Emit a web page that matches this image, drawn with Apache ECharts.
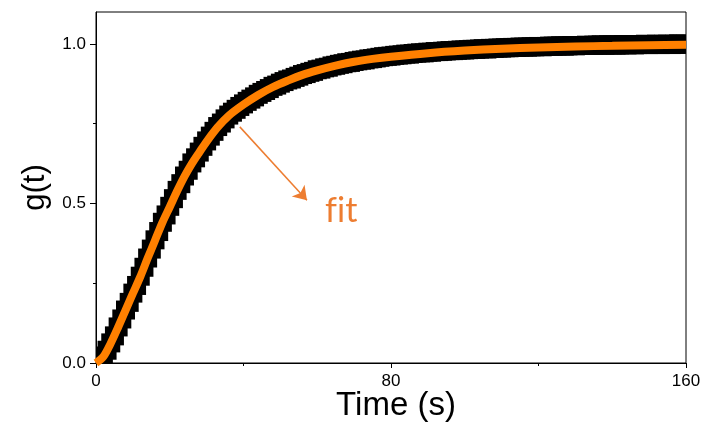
<!DOCTYPE html>
<html>
<head>
    <meta charset="utf-8">
    <title>g(t)</title>
    <script src="https://cdn.jsdelivr.net/npm/echarts@6/dist/echarts.min.js"></script>
    <style>
        html, body { margin: 0; padding: 0; background: #fff; }
        #chart { width: 705px; height: 422px; }
    </style>
</head>
<body>
<div id="chart"></div>
<script type="text/javascript">
    // measured g(t), one sample per second from t = 0
    var sampleStep = 1;
    var gData = [
        0.003, 0.010, 0.022, 0.040, 0.063, 0.085, 0.113, 0.138, 0.166, 0.190,
        0.219, 0.243, 0.272, 0.300, 0.329, 0.357, 0.386, 0.412, 0.441, 0.464,
        0.491, 0.515, 0.541, 0.562, 0.586, 0.604, 0.627, 0.643, 0.661, 0.679,
        0.696, 0.711, 0.726, 0.741, 0.752, 0.765, 0.777, 0.786, 0.795, 0.804,
        0.812, 0.820, 0.827, 0.834, 0.842, 0.848, 0.854, 0.860, 0.867, 0.871,
        0.877, 0.882, 0.887, 0.890, 0.895, 0.899, 0.904, 0.907, 0.911, 0.914,
        0.919, 0.921, 0.925, 0.927, 0.931, 0.933, 0.936, 0.938, 0.941, 0.942,
        0.945, 0.947, 0.949, 0.950, 0.953, 0.954, 0.956, 0.958, 0.960, 0.961,
        0.962, 0.964, 0.965, 0.966, 0.968, 0.968, 0.970, 0.971, 0.972, 0.972,
        0.974, 0.974, 0.976, 0.976, 0.977, 0.978, 0.979, 0.979, 0.980, 0.981,
        0.981, 0.982, 0.983, 0.983, 0.984, 0.985, 0.984, 0.986, 0.986, 0.987,
        0.987, 0.988, 0.988, 0.989, 0.989, 0.990, 0.990, 0.990, 0.991, 0.991,
        0.992, 0.991, 0.992, 0.993, 0.993, 0.993, 0.994, 0.993, 0.994, 0.995,
        0.994, 0.995, 0.995, 0.996, 0.995, 0.996, 0.996, 0.997, 0.996, 0.997,
        0.997, 0.996, 0.997, 0.998, 0.997, 0.998, 0.997, 0.998, 0.998, 0.999,
        0.998, 0.998, 0.999, 0.998, 0.999, 0.999, 0.998, 0.999, 1.000, 0.999,
        0.999
    ];

    // fitted curve
    var fitT = [0, 2, 4, 6, 8, 10, 12, 14, 16, 18, 20, 22, 24, 26, 28, 30, 33, 36, 40, 44,
                48, 52, 56, 60, 65, 70, 75, 80, 90, 100, 110, 120, 130, 140, 150, 160];
    var fitG = [0.000, 0.020, 0.062, 0.112, 0.165, 0.218, 0.270, 0.328, 0.384, 0.440,
                0.489, 0.539, 0.585, 0.625, 0.660, 0.694, 0.739, 0.775, 0.810, 0.840,
                0.865, 0.885, 0.903, 0.917, 0.932, 0.944, 0.953, 0.960, 0.971, 0.979,
                0.985, 0.989, 0.992, 0.994, 0.996, 0.997];

    // annotation arrow (data coords) and label
    var arrowFrom = [39, 0.74];
    var arrowTo = [57.2, 0.51];
    var fitLabelAt = [66.5, 0.475];

    var xTicks = [0, 80, 160];
    var yTicks = [0, 0.5, 1.0];
    var yMinorTicks = [0.25, 0.75];

    var points = [];
    for (var i = 0; i < gData.length; i++) {
        points.push([i * sampleStep, gData[i]]);
    }
    var fitLine = [];
    for (var j = 0; j < fitT.length; j++) {
        fitLine.push([fitT[j], fitG[j]]);
    }

    var tickFont = {
        color: '#000',
        fontFamily: 'Liberation Sans, Arial, sans-serif',
        fontSize: 17
    };

    var myChart = echarts.init(document.getElementById('chart'), null, {renderer: 'canvas'});
    var option = {
        animation: false,
        backgroundColor: '#fff',
        grid: {
            left: 96,
            right: 19,
            top: 12,
            bottom: 59,
            show: true,
            borderColor: '#000',
            borderWidth: 1,
            containLabel: false,
            outerBoundsMode: 'none'
        },
        xAxis: [{
            type: 'value',
            min: xTicks[0],
            max: xTicks[xTicks.length - 1],
            interval: 80,
            name: 'Time (s)',
            nameLocation: 'middle',
            nameGap: 26,
            nameMoveOverlap: false,
            nameTextStyle: {
                color: '#000',
                fontFamily: 'Liberation Sans, Arial, sans-serif',
                fontSize: 33,
                padding: [0, 0, 0, 10]
            },
            axisLine: { lineStyle: { color: '#000', width: 1 } },
            axisTick: { show: true, length: 5, lineStyle: { color: '#000' } },
            minorTick: { show: true, splitNumber: 2, length: 3, lineStyle: { color: '#000' } },
            axisLabel: Object.assign({ margin: 10 }, tickFont),
            splitLine: { show: false }
        }],
        yAxis: [{
            type: 'value',
            min: 0,
            max: 1.1,
            name: 'g(t)',
            nameLocation: 'middle',
            nameGap: 45,
            nameMoveOverlap: false,
            nameTextStyle: {
                color: '#000',
                fontFamily: 'Liberation Sans, Arial, sans-serif',
                fontSize: 31
            },
            axisLine: { lineStyle: { color: '#000', width: 1 } },
            axisTick: { show: true, length: 6, customValues: yTicks, lineStyle: { color: '#000' } },
            axisLabel: Object.assign({
                margin: 10,
                customValues: yTicks,
                formatter: function (v) { return v.toFixed(1); }
            }, tickFont),
            splitLine: { show: false }
        }, {
            type: 'value',
            min: 0,
            max: 1.1,
            position: 'left',
            axisLine: { show: false },
            axisTick: { show: true, length: 3, customValues: yMinorTicks, lineStyle: { color: '#000' } },
            axisLabel: { show: false },
            splitLine: { show: false }
        }],
        series: [{
            name: 'data',
            type: 'custom',
            clip: true,
            z: 2,
            data: points,
            renderItem: function (params, api) {
                var p = api.coord([api.value(0), api.value(1)]);
                var s = 19;
                return {
                    type: 'rect',
                    shape: { x: p[0] - s / 2, y: p[1] - s / 2, width: s, height: s },
                    style: { fill: '#000' }
                };
            }
        }, {
            name: 'fit',
            type: 'line',
            z: 3,
            smooth: 0.3,
            showSymbol: false,
            clip: true,
            data: fitLine,
            lineStyle: { color: '#ff8000', width: 8 },
            markLine: {
                silent: true,
                symbol: ['none', 'arrow'],
                symbolSize: 13,
                lineStyle: { color: '#ed7d31', width: 1.5, type: 'solid' },
                label: { show: false },
                data: [[{ coord: arrowFrom }, { coord: arrowTo }]]
            },
            markPoint: {
                silent: true,
                symbol: 'circle',
                symbolSize: 0,
                label: {
                    show: true,
                    position: 'inside',
                    formatter: 'f\u200Cit',
                    color: '#ed7d31',
                    fontFamily: 'Lato, Open Sans, sans-serif',
                    fontSize: 34
                },
                data: [{ coord: fitLabelAt }]
            }
        }]
    };
    myChart.setOption(option);
</script>
</body>
</html>
